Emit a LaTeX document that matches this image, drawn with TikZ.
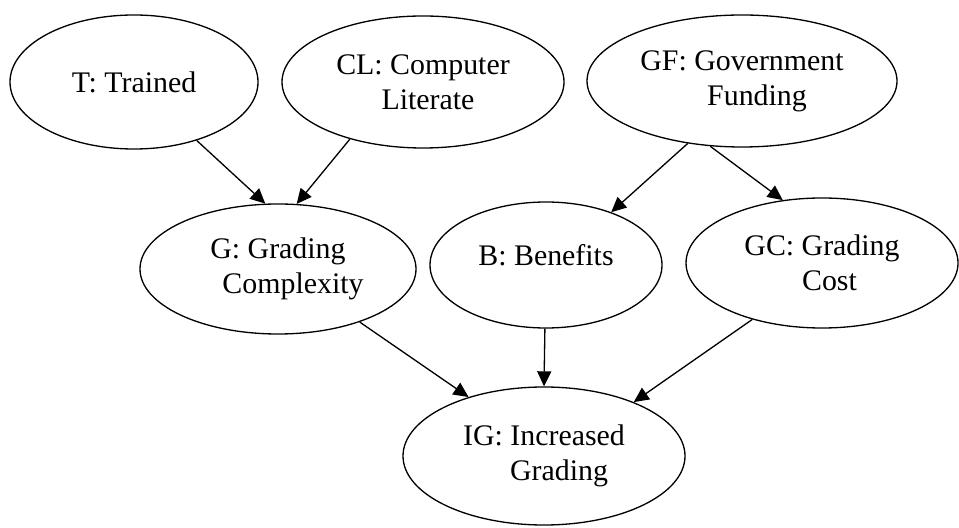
\documentclass[tikz,border=0pt]{standalone}
\usepackage{fontspec}
\setmainfont{Liberation Serif}
\newfontfamily\timesfont{Liberation Serif}
\usetikzlibrary{arrows.meta,shapes.geometric}

\begin{document}
\begin{tikzpicture}[
    var/.style={ellipse, draw, line width=0.75pt, inner sep=0pt, align=center,
      font=\timesfont\fontsize{17pt}{20pt}\selectfont},
    link/.style={line width=0.75pt, -{Triangle[length=0.3cm, width=0.28cm]}}
  ]
  \useasboundingbox (0, 0) rectangle (19.18, 10.54);
  \node[var, minimum width=4.96cm, minimum height=2.68cm] (T) at (2.68, 8.90) {T: Trained};
  \node[var, minimum width=5.64cm, minimum height=2.64cm] (CL) at (8.46, 8.90) {CL: Computer\\\hspace*{0.2cm}Literate};
  \node[var, minimum width=6.20cm, minimum height=2.64cm] (GF) at (14.84, 8.92) {GF: Government\\\hspace*{0.6cm}Funding};
  \node[var, minimum width=5.52cm, minimum height=2.60cm] (G) at (5.56, 5.16) {G: Grading\\\hspace*{0.6cm}Complexity};
  \node[var, minimum width=4.64cm, minimum height=2.52cm, text depth=0.4cm] (B) at (10.92, 5.24) {B: Benefits};
  \node[var, minimum width=5.64cm, minimum height=2.76cm] (IG) at (10.88, 1.42) {IG: Increased\\\hspace*{0.6cm}Grading};
  \node[var, minimum width=5.44cm, minimum height=2.60cm] (GC) at (16.44, 5.28) {GC: Grading\\\hspace*{0.3cm}Cost};
  \draw[link] (T.-43) -- (G.101);
  \draw[link] (CL.218) -- (G.74);
  \draw[link] (GF.229) -- (B.39);
  \draw[link] (GF.244) -- (GC.122);
  \draw[link] (G.-33) -- (IG.142);
  \draw[link] (B.-91) -- (IG.90);
  \draw[link] (GC.219) -- (IG.31);
\end{tikzpicture}
\end{document}
